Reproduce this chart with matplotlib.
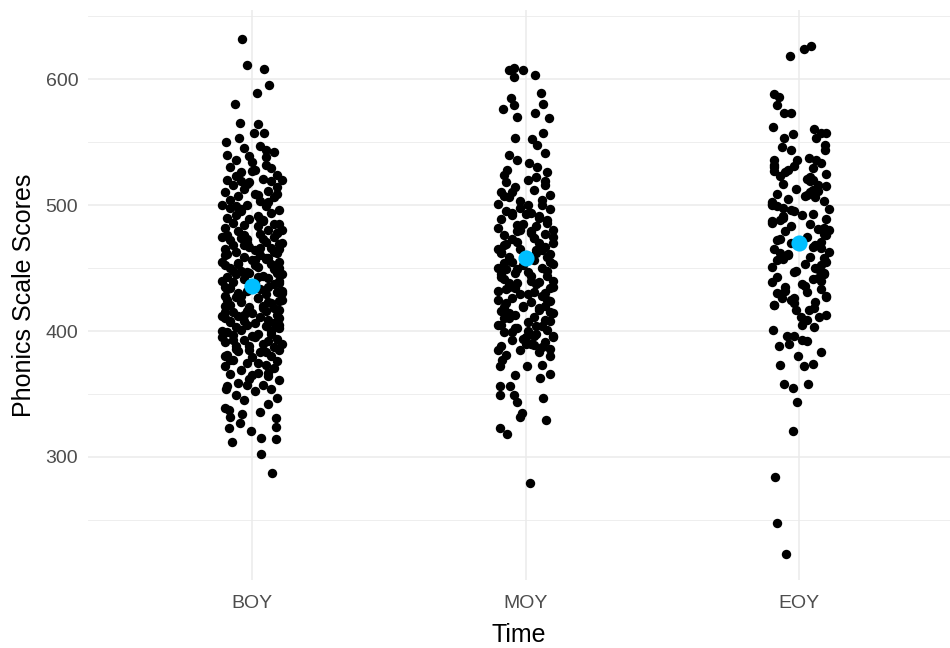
import numpy as np
import matplotlib
matplotlib.use("Agg")
import matplotlib.pyplot as plt

plt.rcParams['font.family'] = ['Liberation Sans', 'DejaVu Sans']

categories = ["BOY", "MOY", "EOY"]
group_means = [435.5, 458, 470]

# ---- BOY: scores and horizontal jitter ----
boy_scores = [
    332, 336, 339, 342, 345, 347, 349, 352, 354, 356,
    357, 359, 361, 362, 364, 366, 367, 369, 371, 372,
    373, 375, 376, 377, 379, 380, 381, 383, 384, 385,
    386, 387, 388, 390, 391, 392, 393, 394, 395, 397,
    398, 399, 400, 401, 402, 403, 404, 405, 406, 407,
    408, 409, 410, 411, 412, 413, 414, 415, 416, 417,
    418, 419, 420, 421, 422, 423, 424, 425, 426, 427,
    428, 429, 430, 431, 432, 433, 434, 435, 436, 437,
    438, 439, 440, 441, 442, 443, 444, 445, 446, 447,
    448, 449, 450, 451, 452, 453, 454, 455, 456, 457,
    458, 459, 460, 461, 462, 463, 464, 465, 466, 467,
    468, 469, 470, 471, 472, 473, 474, 475, 476, 477,
    478, 479, 480, 482, 483, 484, 485, 486, 488, 489,
    490, 491, 492, 494, 495, 496, 498, 499, 500, 502,
    503, 504, 506, 507, 509, 510, 511, 513, 514, 516,
    517, 519, 520, 521, 523, 524, 526, 528, 530, 532,
    534, 536, 538, 540, 542, 545, 547, 520, 500, 480,
    395, 405, 415, 425, 435, 445, 455, 465, 475, 485,
    390, 400, 410, 420, 430, 440, 450, 460, 470, 380,
    365, 375, 385, 396, 406, 416, 426, 436, 446, 456,
    466, 476, 487, 497, 508, 518, 527, 412, 432, 452,
    383, 393, 403, 413, 423, 433, 443, 453, 463, 473,
    388, 398, 408, 418, 428, 438, 448, 458, 468, 478,
    357, 367, 377, 489, 499, 509, 519, 529, 539, 544,
    632, 611, 608, 595, 589, 580, 565, 564, 557, 557, 550, 553,
    354, 337, 334, 323, 327, 321, 312, 315, 331, 324, 314, 302, 287,
]
boy_jitter = [
    -0.08, 0.03, -0.10, 0.06, -0.03, 0.09, -0.06, 0.01, 0.07, -0.09,
    0.04, -0.05, 0.10, -0.01, 0.06, -0.08, 0.02, -0.04, 0.08, -0.10,
    0.05, -0.02, 0.09, -0.07, 0.00, 0.07, -0.09, 0.03, -0.05, 0.10,
    -0.06, 0.08, -0.01, 0.04, -0.10, 0.06, -0.03, 0.09, 0.01, -0.07,
    0.02, -0.09, 0.07, -0.04, 0.10, -0.06, 0.05, -0.02, 0.08, -0.08,
    -0.03, 0.06, -0.10, 0.03, -0.05, 0.09, 0.00, -0.07, 0.05, 0.10,
    0.08, -0.01, 0.04, -0.08, 0.07, -0.04, 0.10, -0.09, 0.02, -0.06,
    -0.10, 0.05, -0.05, 0.09, -0.02, 0.03, -0.08, 0.06, -0.01, 0.08,
    0.01, -0.07, 0.10, -0.03, 0.06, -0.09, 0.04, -0.06, 0.09, -0.02,
    -0.04, 0.08, -0.08, 0.02, -0.10, 0.07, -0.05, 0.10, 0.00, 0.05,
    0.06, -0.03, 0.03, -0.09, 0.09, -0.06, 0.01, -0.10, 0.07, -0.01,
    -0.07, 0.10, -0.02, 0.05, -0.08, 0.04, -0.04, 0.08, -0.09, 0.03,
    0.09, -0.05, 0.06, -0.10, 0.02, -0.03, 0.08, -0.07, 0.04, -0.01,
    -0.09, 0.02, -0.06, 0.07, -0.04, 0.10, -0.08, 0.05, -0.02, 0.06,
    0.03, -0.08, 0.08, -0.05, 0.01, -0.10, 0.06, -0.03, 0.09, -0.07,
    -0.02, 0.07, -0.09, 0.04, -0.06, 0.09, -0.04, 0.01, -0.08, 0.05,
    0.00, -0.06, 0.05, -0.09, 0.08, -0.03, 0.03, 0.11, -0.11, 0.11,
    -0.11, 0.10, -0.10, 0.11, -0.10, 0.11, -0.11, 0.10, -0.11, 0.10,
    0.11, -0.11, 0.10, -0.10, 0.11, -0.11, 0.10, -0.10, 0.11, -0.10,
    0.00, 0.02, -0.01, 0.00, 0.01, -0.02, 0.02, 0.00, -0.01, 0.01,
    0.03, -0.03, 0.04, -0.04, 0.02, -0.01, 0.00, -0.11, 0.11, 0.01,
    0.05, -0.07, 0.09, -0.03, 0.06, -0.09, 0.02, -0.05, 0.08, -0.02,
    -0.06, 0.07, -0.08, 0.04, -0.04, 0.10, -0.07, 0.05, -0.03, 0.09,
    -0.02, 0.06, -0.08, 0.03, -0.06, 0.09, -0.04, 0.07, -0.01, 0.05,
    -0.038, -0.017, 0.044, 0.062, 0.017, -0.063, -0.044, 0.022, 0.007, 0.044, -0.096, -0.048,
    -0.096, -0.084, -0.037, -0.084, -0.044, -0.005, -0.073, 0.032, 0.087, 0.087, 0.087, 0.032, 0.073,
]

# ---- MOY ----
moy_scores = [
    381, 383, 385, 386, 388, 390, 391, 393, 395, 396,
    398, 399, 401, 402, 404, 405, 407, 408, 410, 411,
    413, 414, 416, 417, 419, 420, 422, 423, 425, 426,
    428, 429, 431, 432, 434, 435, 437, 438, 440, 441,
    443, 444, 446, 447, 449, 450, 452, 453, 455, 456,
    458, 459, 461, 462, 464, 465, 467, 468, 470, 471,
    473, 474, 476, 477, 479, 480, 482, 483, 485, 486,
    488, 489, 491, 492, 494, 495, 497, 498, 500, 501,
    503, 504, 506, 508, 510, 512, 514, 516, 518, 520,
    522, 524, 526, 390, 400, 420, 440, 460, 480, 500,
    385, 395, 405, 415, 425, 435, 445, 455, 465, 475,
    490, 510, 470, 450, 430, 410, 396, 484, 462, 438,
    387, 402, 418, 433, 448, 463, 478, 493, 507, 519,
    389, 399, 409, 419, 429, 439, 449, 459, 469, 479,
    394, 404, 414, 424, 434, 444, 454, 464, 474, 494,
    607, 609, 602, 607, 603, 585, 589, 579, 576, 580, 570, 573,
    569, 553, 557, 552, 548, 541, 540, 536, 528, 533, 530,
    377, 372, 380, 373, 366, 363, 365, 372, 356, 349,
    356, 349, 344, 347, 335, 332, 329, 323, 318, 279,
]
moy_jitter = [
    -0.07, 0.05, -0.02, 0.09, -0.09, 0.02, 0.07, -0.05, 0.00, 0.10,
    0.04, -0.08, 0.08, -0.03, 0.06, -0.10, 0.01, 0.09, -0.06, 0.03,
    -0.04, 0.10, -0.09, 0.05, -0.01, 0.07, -0.07, 0.02, 0.08, -0.05,
    0.06, -0.02, 0.03, -0.10, 0.09, -0.06, 0.04, -0.03, 0.10, -0.08,
    -0.09, 0.08, -0.04, 0.01, -0.07, 0.06, -0.01, 0.10, -0.05, 0.03,
    0.02, -0.06, 0.09, -0.09, 0.04, -0.02, 0.07, -0.08, 0.05, -0.03,
    -0.05, 0.03, -0.08, 0.07, -0.03, 0.10, -0.10, 0.04, -0.01, 0.08,
    0.08, -0.09, 0.05, -0.05, 0.02, -0.07, 0.09, -0.02, 0.06, -0.10,
    -0.02, 0.06, -0.06, 0.09, -0.09, 0.03, -0.04, 0.07, -0.07, 0.01,
    0.04, -0.08, 0.08, 0.00, 0.01, -0.01, 0.02, 0.00, -0.02, 0.01,
    -0.10, 0.10, -0.09, 0.09, -0.10, 0.10, -0.09, 0.09, -0.10, 0.10,
    0.05, -0.05, 0.10, -0.10, 0.07, -0.08, 0.03, -0.03, 0.04, -0.06,
    0.06, -0.04, 0.05, -0.07, 0.08, -0.09, 0.02, 0.00, -0.08, 0.07,
    0.03, -0.05, 0.07, -0.08, 0.01, 0.05, -0.03, 0.08, -0.07, 0.02,
    -0.01, 0.04, -0.06, 0.09, -0.04, 0.02, -0.08, 0.06, 0.03, -0.05,
    -0.062, -0.044, -0.044, -0.010, 0.035, -0.052, 0.056, -0.044, -0.083, 0.063, -0.032, 0.035,
    0.084, -0.038, 0.063, 0.023, 0.041, 0.072, -0.062, -0.032, -0.068, 0.011, 0.041,
    -0.087, -0.093, 0.090, 0.060, 0.090, 0.054, -0.038, 0.005, -0.093, -0.093,
    -0.056, -0.044, -0.032, 0.063, -0.014, -0.019, 0.076, -0.093, -0.066, 0.017,
]

# ---- EOY ----
eoy_scores = [
    421, 423, 425, 427, 429, 431, 433, 435, 437, 439,
    441, 443, 445, 447, 449, 451, 453, 455, 457, 459,
    461, 463, 465, 467, 469, 471, 473, 475, 477, 479,
    481, 483, 485, 487, 489, 491, 493, 495, 497, 499,
    501, 503, 505, 507, 509, 511, 513, 515, 517, 519,
    521, 523, 525, 527, 529, 531, 533, 430, 450, 470,
    490, 510, 530, 440, 460, 480, 500, 520, 426, 446,
    466, 486, 506, 526, 436, 456, 476, 496, 516, 536,
    422, 442, 462, 482, 502, 522, 432, 452, 472, 492,
    512, 532, 428, 448, 468, 488, 508, 528, 458, 498,
    618, 624, 626, 588, 586, 579, 573, 573, 562, 560, 557,
    557, 553, 556, 553, 546, 544, 548, 544, 536, 537, 536,
    421, 426, 417, 417, 418, 411, 409, 411, 413, 405, 403,
    401, 396, 396, 393, 392, 388, 390, 383, 380, 373,
    374, 372, 358, 355, 358, 344, 321, 284, 248, 223,
]
eoy_jitter = [
    -0.09, 0.06, -0.03, 0.10, -0.07, 0.03, 0.08, -0.05, 0.01, -0.10,
    0.05, -0.08, 0.09, -0.02, 0.07, -0.10, 0.02, 0.10, -0.06, 0.04,
    -0.04, 0.11, -0.09, 0.05, -0.01, 0.08, -0.07, 0.03, 0.09, -0.05,
    0.07, -0.03, 0.04, -0.10, 0.10, -0.06, 0.05, -0.02, 0.11, -0.08,
    -0.10, 0.09, -0.04, 0.02, -0.08, 0.07, -0.01, 0.10, -0.06, 0.04,
    0.03, -0.07, 0.10, -0.09, 0.05, -0.02, 0.08, -0.08, 0.06, -0.03,
    -0.06, 0.04, -0.09, 0.08, -0.04, 0.11, -0.10, 0.05, -0.02, 0.09,
    0.08, -0.10, 0.06, -0.05, 0.02, -0.08, 0.10, -0.03, 0.07, -0.09,
    -0.02, 0.07, -0.07, 0.09, -0.10, 0.04, -0.05, 0.08, -0.08, 0.01,
    0.05, -0.09, 0.10, -0.01, 0.06, -0.07, 0.03, -0.04, 0.09, -0.06,
    -0.034, 0.018, 0.045, -0.091, -0.073, -0.082, -0.055, -0.028, -0.094, 0.055, 0.079,
    0.098, 0.061, -0.021, -0.055, -0.061, -0.030, 0.094, 0.094, -0.006, 0.037, 0.061,
    -0.091, -0.061, -0.012, 0.037, 0.055, 0.006, 0.030, 0.073, 0.098, 0.012, 0.055,
    -0.094, -0.043, -0.018, 0.012, 0.030, -0.073, -0.037, 0.079, -0.003, -0.069,
    0.052, 0.018, -0.055, -0.021, 0.033, -0.008, -0.021, -0.088, -0.082, -0.049,
]

scores = [boy_scores, moy_scores, eoy_scores]
jitters = [boy_jitter, moy_jitter, eoy_jitter]

fig = plt.figure(figsize=(9.5, 6.48), dpi=100)
ax = fig.add_axes([0.0926, 0.105, 0.9074, 0.8796])

for i, (s, j) in enumerate(zip(scores, jitters)):
    x = (i + 1) + np.array(j)
    ax.scatter(x, s, s=46, color='black', linewidths=0, zorder=3)

ax.scatter([1, 2, 3], group_means, s=135, color='#00BFFF', linewidths=0, zorder=4)

# theme_minimal look
ax.set_xlim(0.4, 3.552)
ax.set_ylim(202.4, 654.8)
ax.set_xticks([1, 2, 3])
ax.set_xticklabels(categories)
ax.set_yticks([300, 400, 500, 600])
ax.set_yticks([250, 350, 450, 550, 650], minor=True)
ax.grid(True, which='major', color='#EBEBEB', linewidth=1.1, zorder=0)
ax.grid(True, which='minor', axis='y', color='#EBEBEB', linewidth=0.6, zorder=0)
ax.set_axisbelow(True)
for sp in ax.spines.values():
    sp.set_visible(False)
ax.tick_params(axis='both', which='both', length=0, labelsize=14, labelcolor='#4D4D4D')
ax.tick_params(axis='y', pad=7)
ax.tick_params(axis='x', pad=11)

ax.set_xlabel("Time", fontsize=18, labelpad=8)
ax.set_ylabel("Phonics Scale Scores", fontsize=18, labelpad=7)

fig.savefig("out.png", dpi=100, facecolor='white')
